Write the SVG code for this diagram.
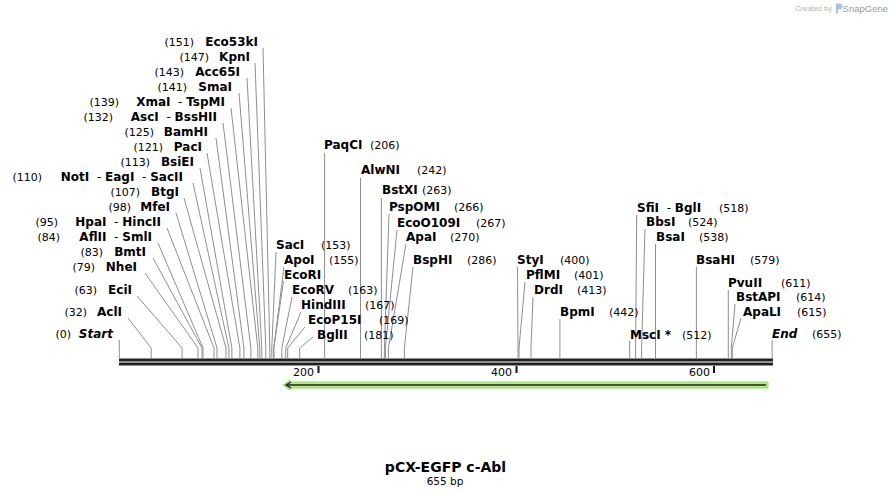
<svg xmlns="http://www.w3.org/2000/svg" width="892" height="498" viewBox="0 0 892 498">
<style>
.n{font-family:"DejaVu Sans","Liberation Sans",sans-serif;font-weight:bold;font-size:12px;fill:#000;white-space:pre}
.p{font-family:"DejaVu Sans","Liberation Sans",sans-serif;font-size:11px;fill:#000}
.e{font-style:italic}
.d{font-weight:normal}
.c polyline{stroke:#8f8f8f;stroke-width:1;fill:none}
.l{text-anchor:end}
.tk{font-family:"DejaVu Sans","Liberation Sans",sans-serif;font-size:11px;fill:#000;text-anchor:end}
</style>
<rect width="892" height="498" fill="#fff"/>
<g id="logo">
<text x="832" y="10.5" text-anchor="end" font-family="'Liberation Sans',sans-serif" font-size="7.5" fill="#b4b4b4">Created by</text>
<path d="M836 3.5h3.5a3 3 0 0 1 0 6h-1.5v4h-2z" fill="#a9c4dc"/>
<text x="888" y="11.5" text-anchor="end" font-family="'Liberation Sans',sans-serif" font-size="9.5" fill="#9a9a9a">SnapGene</text>
</g>
<g id="connectors" class="c">
<polyline points="263,48 269.8,348 269.8,358"/>
<polyline points="255,63 265.8,348 265.8,358"/>
<polyline points="247,78 261.8,348 261.8,358"/>
<polyline points="239,93 259.8,348 259.8,358"/>
<polyline points="231,108 257.8,348 257.8,358"/>
<polyline points="223,123 250.9,348 250.9,358"/>
<polyline points="216,138 243.9,348 243.9,358"/>
<polyline points="207,153 239.9,348 239.9,358"/>
<polyline points="200,168 231.9,348 231.9,358"/>
<polyline points="193,183 228.9,348 228.9,358"/>
<polyline points="184,198 226,348 226,358"/>
<polyline points="176,213 217,348 217,358"/>
<polyline points="167,228 214,348 214,358"/>
<polyline points="158,243 203,348 203,358"/>
<polyline points="153,258 202,348 202,358"/>
<polyline points="145,273 198,348 198,358"/>
<polyline points="137,296 182.1,348 182.1,358"/>
<polyline points="128,318 151.2,348 151.2,358"/>
<polyline points="119.3,340 119.3,358"/>
<polyline points="324.6,153 324.6,358"/>
<polyline points="360.5,178 360.5,358"/>
<polyline points="381.4,198 381.4,358"/>
<polyline points="389,214 384.4,348 384.4,358"/>
<polyline points="397,230 385.4,348 385.4,358"/>
<polyline points="406,244 388.4,348 388.4,358"/>
<polyline points="276,252 271.8,348 271.8,358"/>
<polyline points="284,267 273.8,348 273.8,358"/>
<polyline points="283.5,281 273.8,348 273.8,358"/>
<polyline points="292,297 281.8,348 281.8,358"/>
<polyline points="301,312 285.7,348 285.7,358"/>
<polyline points="305,327 287.7,348 287.7,358"/>
<polyline points="313,337 299.7,348 299.7,358"/>
<polyline points="413,267 404.4,348 404.4,358"/>
<polyline points="636.7,215 635.6,348 635.6,358"/>
<polyline points="645,229 641.6,348 641.6,358"/>
<polyline points="655.5,244 655.5,358"/>
<polyline points="517.5,267 518,348 518,358"/>
<polyline points="525,282 519,348 519,358"/>
<polyline points="533,297 531,348 531,358"/>
<polyline points="559.9,319 559.9,358"/>
<polyline points="629.6,341 629.6,358"/>
<polyline points="696.4,267 696.4,358"/>
<polyline points="728.3,290 728.3,358"/>
<polyline points="735,304 731.3,348 731.3,358"/>
<polyline points="741,318 732.3,348 732.3,358"/>
<polyline points="772.1,340 772.1,358"/>
</g>
<g id="map">
<rect x="119" y="358.5" width="654" height="3" fill="#222"/>
<rect x="119" y="362.5" width="654" height="3" fill="#222"/>
<path d="M318.5 366v7M516.5 366v7M714 366v7" stroke="#111" stroke-width="2"/>
<text class="tk" x="314" y="376">200</text>
<text class="tk" x="512" y="376">400</text>
<text class="tk" x="710" y="376">600</text>
</g>
<g id="feature">
<polygon points="283,385 290,380 290,382 768,382 768,388 290,388 290,390" fill="#b4ec8a" stroke="#98dc66" stroke-width="1"/>
<line x1="287" y1="385" x2="766" y2="385" stroke="#222" stroke-width="1.5"/>
<polyline points="291,382 286,385 291,388" fill="none" stroke="#222" stroke-width="1.3"/>
</g>
<g id="Eco53kI"><text class="p l" x="194" y="46">(151)</text><text class="n l" x="258" y="46">Eco53kI</text></g>
<g id="KpnI"><text class="p l" x="209" y="61">(147)</text><text class="n l" x="250" y="61">KpnI</text></g>
<g id="Acc65I"><text class="p l" x="184" y="76">(143)</text><text class="n l" x="240" y="76">Acc65I</text></g>
<g id="SmaI"><text class="p l" x="187" y="91">(141)</text><text class="n l" x="232" y="91">SmaI</text></g>
<g id="XmaI"><text class="p l" x="119" y="106">(139)</text><text class="n l" x="225" y="106">XmaI<tspan class="d">  - </tspan>TspMI</text></g>
<g id="AscI"><text class="p l" x="113" y="121">(132)</text><text class="n l" x="217" y="121">AscI<tspan class="d">  - </tspan>BssHII</text></g>
<g id="BamHI"><text class="p l" x="154" y="136">(125)</text><text class="n l" x="208" y="136">BamHI</text></g>
<g id="PacI"><text class="p l" x="163" y="151">(121)</text><text class="n l" x="202" y="151">PacI</text></g>
<g id="BsiEI"><text class="p l" x="150" y="166">(113)</text><text class="n l" x="194" y="166">BsiEI</text></g>
<g id="NotI"><text class="p l" x="42" y="181">(110)</text><text class="n l" x="183" y="181">NotI<tspan class="d">  - </tspan>EagI<tspan class="d">  - </tspan>SacII</text></g>
<g id="BtgI"><text class="p l" x="140" y="196">(107)</text><text class="n l" x="179" y="196">BtgI</text></g>
<g id="MfeI"><text class="p l" x="131" y="211">(98)</text><text class="n l" x="170" y="211">MfeI</text></g>
<g id="HpaI"><text class="p l" x="58" y="226">(95)</text><text class="n l" x="161" y="226">HpaI<tspan class="d">  - </tspan>HincII</text></g>
<g id="AflII"><text class="p l" x="60" y="241">(84)</text><text class="n l" x="152" y="241">AflII<tspan class="d">  - </tspan>SmlI</text></g>
<g id="BmtI"><text class="p l" x="103" y="256">(83)</text><text class="n l" x="146" y="256">BmtI</text></g>
<g id="NheI"><text class="p l" x="95" y="271">(79)</text><text class="n l" x="137" y="271">NheI</text></g>
<g id="EciI"><text class="p l" x="97" y="294">(63)</text><text class="n l" x="132" y="294">EciI</text></g>
<g id="AclI"><text class="p l" x="87" y="316">(32)</text><text class="n l" x="122" y="316">AclI</text></g>
<g id="Start"><text class="p l" x="71" y="338">(0)</text><text class="n l e" x="113" y="338">Start</text></g>
<g id="PaqCI"><text class="n" x="324" y="148.5">PaqCI</text><text class="p" x="370" y="148.5">(206)</text></g>
<g id="AlwNI"><text class="n" x="361" y="174">AlwNI</text><text class="p" x="417" y="174">(242)</text></g>
<g id="BstXI"><text class="n" x="382" y="194">BstXI</text><text class="p" x="422" y="194">(263)</text></g>
<g id="PspOMI"><text class="n" x="389" y="211">PspOMI</text><text class="p" x="454" y="211">(266)</text></g>
<g id="EcoO109I"><text class="n" x="397" y="227">EcoO109I</text><text class="p" x="476" y="227">(267)</text></g>
<g id="ApaI"><text class="n" x="406" y="241">ApaI</text><text class="p" x="450" y="241">(270)</text></g>
<g id="SacI"><text class="n" x="276" y="249">SacI</text><text class="p" x="321" y="249">(153)</text></g>
<g id="ApoI"><text class="n" x="284" y="264">ApoI</text><text class="p" x="329" y="264">(155)</text></g>
<g id="EcoRI"><text class="n" x="284" y="279">EcoRI</text></g>
<g id="EcoRV"><text class="n" x="292" y="294">EcoRV</text><text class="p" x="348" y="294">(163)</text></g>
<g id="HindIII"><text class="n" x="301" y="309">HindIII</text><text class="p" x="365" y="309">(167)</text></g>
<g id="EcoP15I"><text class="n" x="308" y="324">EcoP15I</text><text class="p" x="379" y="324">(169)</text></g>
<g id="BglII"><text class="n" x="317" y="339">BglII</text><text class="p" x="364" y="339">(181)</text></g>
<g id="BspHI"><text class="n" x="413" y="264">BspHI</text><text class="p" x="467" y="264">(286)</text></g>
<g id="SfiI"><text class="n" x="637" y="212">SfiI<tspan class="d">  - </tspan>BglI</text><text class="p" x="719" y="212">(518)</text></g>
<g id="BbsI"><text class="n" x="646" y="226">BbsI</text><text class="p" x="688" y="226">(524)</text></g>
<g id="BsaI"><text class="n" x="656" y="241">BsaI</text><text class="p" x="699" y="241">(538)</text></g>
<g id="StyI"><text class="n" x="517" y="264">StyI</text><text class="p" x="560" y="264">(400)</text></g>
<g id="PflMI"><text class="n" x="526" y="279">PflMI</text><text class="p" x="574" y="279">(401)</text></g>
<g id="DrdI"><text class="n" x="534" y="294">DrdI</text><text class="p" x="577" y="294">(413)</text></g>
<g id="BpmI"><text class="n" x="560" y="316">BpmI</text><text class="p" x="609" y="316">(442)</text></g>
<g id="MscI"><text class="n" x="630" y="339">MscI *</text><text class="p" x="682" y="339">(512)</text></g>
<g id="BsaHI"><text class="n" x="696" y="264">BsaHI</text><text class="p" x="750" y="264">(579)</text></g>
<g id="PvuII"><text class="n" x="728" y="287">PvuII</text><text class="p" x="781" y="287">(611)</text></g>
<g id="BstAPI"><text class="n" x="736" y="301">BstAPI</text><text class="p" x="796" y="301">(614)</text></g>
<g id="ApaLI"><text class="n" x="743" y="316">ApaLI</text><text class="p" x="797" y="316">(615)</text></g>
<g id="End"><text class="n e" x="772" y="338">End</text><text class="p" x="812" y="338">(655)</text></g>
<g id="title">
<text x="445.5" y="472" text-anchor="middle" font-family="'DejaVu Sans','Liberation Sans',sans-serif" font-weight="bold" font-size="14">pCX-EGFP c-Abl</text>
<text x="445" y="485" text-anchor="middle" font-family="'DejaVu Sans','Liberation Sans',sans-serif" font-size="10.5">655 bp</text>
</g>
</svg>
